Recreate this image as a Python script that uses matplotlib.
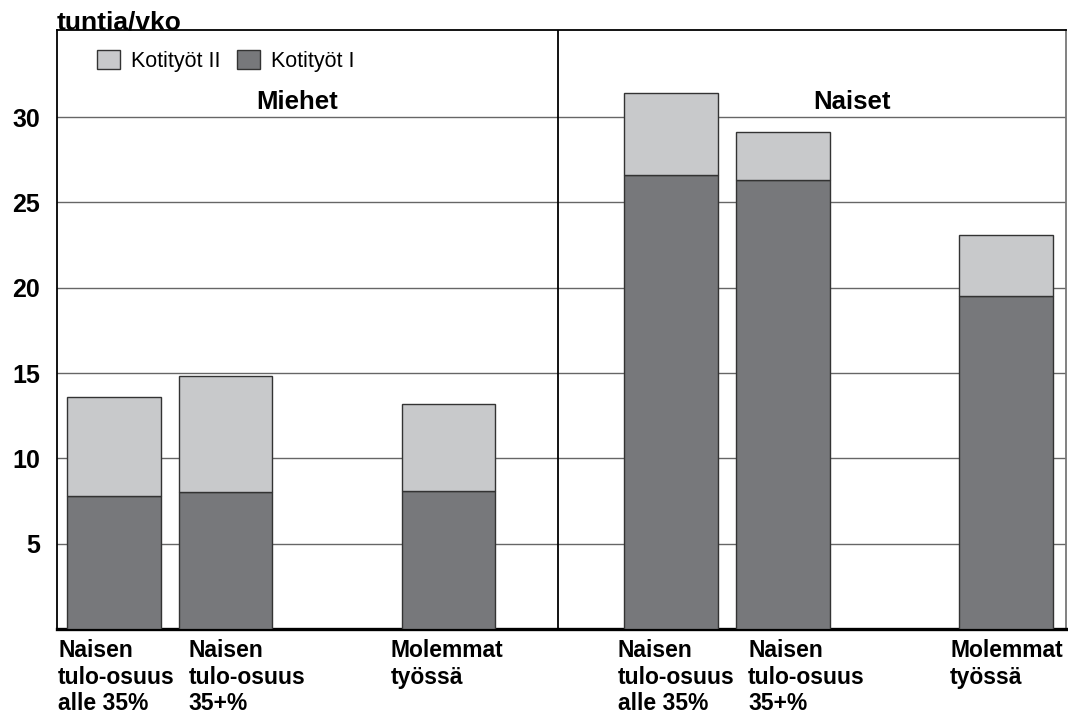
import matplotlib
matplotlib.use("Agg")
import matplotlib.pyplot as plt
import numpy as np

plt.rcParams['font.family'] = ['Liberation Sans', 'DejaVu Sans']

# data
categories = ["Naisen\ntulo-osuus\nalle 35%", "Naisen\ntulo-osuus\n35+%", "Molemmat\ntyössä",
              "Naisen\ntulo-osuus\nalle 35%", "Naisen\ntulo-osuus\n35+%", "Molemmat\ntyössä"]
kotityot_1 = [7.8, 8.0, 8.1, 26.6, 26.3, 19.5]
kotityot_2 = [5.8, 6.8, 5.1, 4.8, 2.8, 3.6]
groups = ["Miehet", "Naiset"]
yticks = [5, 10, 15, 20, 25, 30]

dark = "#77787b"
light = "#c8c9cb"
edge = "#333333"

x = np.array([0, 1, 3, 5, 6, 8])
w = 0.84
# left edge of each category label, relative to the bar centre
label_dx = np.array([-0.50, -0.33, -0.52, -0.48, -0.31, -0.50])

fig = plt.figure(figsize=(10.68, 7.15), dpi=100)
ax = fig.add_axes([57/1068, 1 - 629/715, (1066 - 57)/1068, (629 - 30)/715])

ax.bar(x, kotityot_1, w, color=dark, edgecolor=edge, linewidth=1, label="Kotityöt I", zorder=3)
ax.bar(x, kotityot_2, w, bottom=kotityot_1, color=light, edgecolor=edge, linewidth=1,
       label="Kotityöt II", zorder=3)

ax.set_xlim(-0.51, 8.54)
ax.set_ylim(0, 35.1)
ax.set_yticks(yticks)
ax.set_yticklabels([str(v) for v in yticks], fontsize=18, fontweight='bold')
ax.tick_params(axis='y', length=0, pad=12)
ax.set_xticks([])
for v in yticks:
    ax.axhline(v, color="#666666", linewidth=1.0, zorder=1)

for s in ['top', 'left']:
    ax.spines[s].set_linewidth(1.3)
ax.spines['bottom'].set_linewidth(2.4)
ax.spines['right'].set_color("#777777")
ax.spines['right'].set_linewidth(1.3)

# divider between groups
ax.axvline(3.98, color="black", linewidth=1.3, zorder=2)

# group titles
ax.text(1.64, 30.9, groups[0], ha='center', va='center', fontsize=18.5, fontweight='bold')
ax.text(6.62, 30.9, groups[1], ha='center', va='center', fontsize=18.5, fontweight='bold')

# category labels under bars
for xi, dx, lab in zip(x, label_dx, categories):
    ax.text(xi + dx, -0.6, lab, ha='left', va='top', fontsize=16.5,
            fontweight='bold', linespacing=1.2)

# legend
handles, labels = ax.get_legend_handles_labels()
ax.legend(handles[::-1], labels[::-1], loc='upper left', bbox_to_anchor=(0.04, 0.967),
          ncol=2, frameon=False, fontsize=15.5, handlelength=1.05, handleheight=1.0,
          columnspacing=0.8, handletextpad=0.5, borderpad=0, borderaxespad=0)

fig.text(57/1068, 1 - 11/715, "tuntia/vko", ha='left', va='top', fontsize=19, fontweight='bold')

fig.savefig("out.png", dpi=100)
